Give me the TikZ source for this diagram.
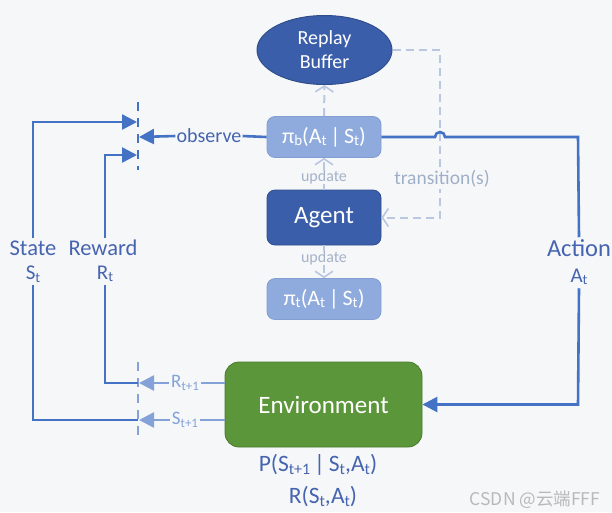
\documentclass[tikz,border=0pt]{standalone}
\usepackage{fontspec}
\setmainfont{Carlito}
\newfontfamily\cjk{Noto Sans CJK SC}
\usetikzlibrary{arrows.meta,shapes.geometric}
\newcommand\mysub[1]{\raisebox{-0.12em}{\scalebox{0.68}{#1}}}
\definecolor{bgcol}{RGB}{246,247,249}
\definecolor{lineblue}{RGB}{68,114,196}
\definecolor{textblue}{RGB}{70,100,175}
\definecolor{darkfill}{RGB}{59,94,170}
\definecolor{darkedge}{RGB}{47,78,140}
\definecolor{lightfill}{RGB}{143,170,220}
\definecolor{lightedge}{RGB}{130,158,210}
\definecolor{dashcol}{RGB}{186,199,224}
\definecolor{updcol}{RGB}{165,178,200}
\definecolor{envfill}{RGB}{92,150,58}
\definecolor{envedge}{RGB}{72,122,44}
\definecolor{lightblue}{RGB}{132,162,216}
\definecolor{transcol}{RGB}{160,175,200}
\begin{document}
\begin{tikzpicture}[x=1pt,y=-1pt,
  mainline/.style={draw=lineblue,line width=2.6pt},
  lightmain/.style={draw=lightblue,line width=2.6pt},
  tip/.style={-{Triangle[length=15pt,width=15pt]}},
  chev/.style={-{Straight Barb[length=6pt,width=18pt,line width=1.6pt]}},
  dashline/.style={draw=dashcol,line width=2pt,dash pattern=on 8pt off 5pt},
  vdash/.style={line width=2.5pt,dash pattern=on 9pt off 7pt},
  lbox/.style={rounded corners=8pt,fill=lightfill,draw=lightedge,line width=0.8pt,
    minimum width=114pt,minimum height=41pt,text=white,inner sep=0pt,
    font=\fontsize{22}{25}\selectfont},
  dbox/.style={rounded corners=8pt,fill=darkfill,draw=darkedge,line width=0.8pt,
    minimum width=114pt,minimum height=55pt,text=white,inner sep=0pt,
    font=\fontsize{25}{28}\selectfont},
  envbox/.style={rounded corners=14pt,fill=envfill,draw=envedge,line width=0.8pt,
    minimum width=197pt,minimum height=85pt,text=white,inner sep=0pt,
    font=\fontsize{25}{28}\selectfont},
  updlab/.style={text=updcol,font=\fontsize{16}{18}\selectfont,inner sep=0pt},
  biglab/.style={text=textblue,font=\fontsize{22.5}{25}\selectfont,inner sep=2pt},
  sublab/.style={text=textblue,font=\fontsize{21}{24}\selectfont,inner sep=3pt},
  lightlab/.style={text=lightblue,font=\fontsize{19}{22}\selectfont,inner sep=2pt},
]
\fill[bgcol] (0,0) rectangle (612,512);
\useasboundingbox (0,0) rectangle (612,512);

% nodes
\node[ellipse,fill=darkfill,draw=darkedge,line width=1pt,minimum width=135pt,
  minimum height=69pt,inner sep=0pt,text=white,align=center,
  font=\fontsize{20}{24}\selectfont] (rb) at (324.5,50) {Replay\\Buffer};
\node[lbox] (pib) at (324,137) {π\mysub{b}(A\mysub{t}\,|\,S\mysub{t})};
\node[dbox] (agent) at (324,217.5) {Agent};
\node[lbox] (pit) at (324,299) {π\mysub{t}(A\mysub{t}\,|\,S\mysub{t})};
\node[envbox] (env) at (323.5,404.5) {Environment};

\node[updlab] (upd1) at (324,177) {update};
\node[updlab] (upd2) at (324,258) {update};

% dashed update / buffer links
\draw[dashline] (agent.north) -- (upd1.south);
\draw[dashline,chev] (upd1.north) -- (pib.south);
\draw[dashline] (agent.south) -- (upd2.north);
\draw[dashline,chev] (upd2.south) -- (pit.north);
\draw[dashline,chev] (pib.north) -- (rb.south);

\coordinate (tc1) at (440,50);
\coordinate (tc2) at (440,217.5);
\draw[dashline,chev] (rb.east) -- (tc1) -- (tc2) -- (agent.east);
\node[text=transcol,font=\fontsize{19.5}{22}\selectfont,fill=bgcol,inner sep=2pt] (trans) at (442,179) {transition(s)};

% action loop
\node[biglab,font=\fontsize{24.5}{27}\selectfont] (action) at (579,248) {Action};
\node[sublab] (at) at (579,277) {A\mysub{t}};
\coordinate (hopL) at (435,137);
\coordinate (ar1) at (578,137);
\coordinate (ar2) at (578,404.5);
\draw[mainline] (pib.east) -- (hopL) arc[start angle=180,end angle=0,radius=5pt] -- (ar1) -- (action.north);
\draw[mainline,tip] (at.south) -- (ar2) -- (env.east);

% observe
\node[text=textblue,font=\fontsize{20}{23}\selectfont,inner sep=1pt] (obs) at (209,136) {observe};
\coordinate (obsT) at (139,137);
\draw[mainline] (pib.west) -- (obs.east);
\draw[mainline,tip] (obs.west) -- (obsT);

% dashed verticals
\coordinate (vd1a) at (138,102);
\coordinate (vd1b) at (138,170);
\coordinate (vd2a) at (138,362);
\coordinate (vd2b) at (138,440);
\draw[vdash,draw=lineblue] (vd1a) -- (vd1b);
\draw[vdash,draw=lightblue] (vd2a) -- (vd2b);

% state & reward
\node[biglab] (state) at (33,248) {State};
\node[sublab] (st) at (33,274) {S\mysub{t}};
\node[biglab] (reward) at (103,248) {Reward};
\node[sublab] (rt) at (105,274) {R\mysub{t}};

\coordinate (s1) at (33,122);
\coordinate (s2) at (137,122);
\coordinate (r1) at (105,155);
\coordinate (r2) at (137,155);
\draw[mainline,tip] (state.north -| s1) -- (s1) -- (s2);
\draw[mainline,tip] (reward.north -| r1) -- (r1) -- (r2);

\coordinate (r3) at (105,383);
\coordinate (r4) at (138,383);
\coordinate (s3) at (33,420);
\coordinate (s4) at (138,420);
\draw[mainline] (rt.south -| r3) -- (r3) -- (r4);
\draw[mainline] (st.south -| s3) -- (s3) -- (s4);

\node[lightlab] (rt1) at (185,383) {R\mysub{t+1}};
\node[lightlab] (st1) at (185,420) {S\mysub{t+1}};
\draw[lightmain] (env.west |- rt1) -- (rt1.east);
\draw[lightmain,tip] (rt1.west) -- (139,383);
\draw[lightmain] (env.west |- st1) -- (st1.east);
\draw[lightmain,tip] (st1.west) -- (139,420);

% model text
\node[text=textblue,font=\fontsize{23.5}{26}\selectfont] (pm) at (318,465) {P(S\mysub{t+1}\,|\,S\mysub{t},A\mysub{t})};
\node[text=textblue,font=\fontsize{23.5}{26}\selectfont] (rm) at (323,497) {R(S\mysub{t},A\mysub{t})};

\node[text=gray!55,font=\cjk\fontsize{17.5}{20}\selectfont] (wm) at (535,500) {CSDN @云端FFF};
\end{tikzpicture}
\end{document}
